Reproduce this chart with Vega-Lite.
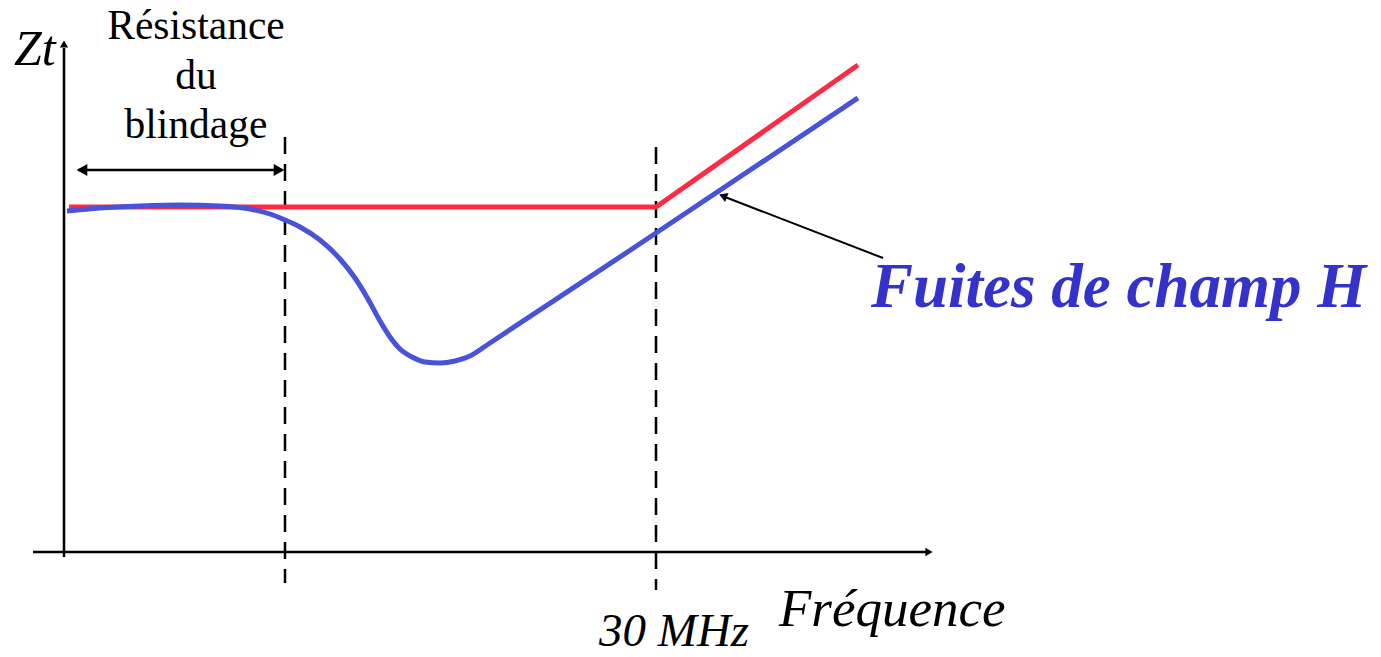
{
  "$schema": "https://vega.github.io/schema/vega-lite/v6.json",
  "width": 1381,
  "height": 657,
  "padding": 0,
  "autosize": {"type": "fit", "contains": "padding"},
  "background": "white",
  "config": {"view": {"stroke": null}, "text": {"font": "'Liberation Serif', 'Times New Roman', Times, serif"}},
  "datasets": {
    "blue": [
      {"f": 67, "z": 211}, {"f": 100, "z": 208}, {"f": 140, "z": 206}, {"f": 180, "z": 205},
      {"f": 220, "z": 206}, {"f": 250, "z": 209}, {"f": 270, "z": 214}, {"f": 285, "z": 220},
      {"f": 300, "z": 227}, {"f": 320, "z": 240}, {"f": 340, "z": 259}, {"f": 355, "z": 278},
      {"f": 368, "z": 299}, {"f": 380, "z": 321}, {"f": 390, "z": 337}, {"f": 400, "z": 349},
      {"f": 412, "z": 357}, {"f": 425, "z": 362}, {"f": 440, "z": 363}, {"f": 455, "z": 361},
      {"f": 470, "z": 356}, {"f": 490, "z": 343}, {"f": 656, "z": 233}, {"f": 858, "z": 98}
    ],
    "red": [{"f": 69, "z": 207}, {"f": 656, "z": 207}, {"f": 858, "z": 65}],
    "axes": [
      {"f": 33, "z": 552, "f2": 926, "z2": 552},
      {"f": 64, "z": 557, "f2": 64, "z2": 48}
    ],
    "heads": [
      {"f": 929, "z": 552, "dir": 90},
      {"f": 64, "z": 44, "dir": 0}
    ],
    "dashed": [
      {"f": 285, "z": 137, "z2": 583},
      {"f": 656, "z": 147, "z2": 590}
    ],
    "span": [{"f": 78, "z": 170, "f2": 282, "z2": 170}],
    "spanHeads": [{"f": 82, "z": 170, "dir": 270}, {"f": 279, "z": 170, "dir": 90}],
    "pointer": [{"f": 883, "z": 258, "f2": 725, "z2": 197}],
    "pointerHead": [{"f": 723, "z": 196, "dir": 291}],
    "resist": [
      {"f": 196, "z": 39, "label": "Résistance"},
      {"f": 196, "z": 89, "label": "du"},
      {"f": 196, "z": 138, "label": "blindage"}
    ],
    "zt": [{"f": 14, "z": 65, "label": "Zt"}],
    "freq": [{"f": 779, "z": 626, "label": "Fréquence"}],
    "mhz": [{"f": 599, "z": 646, "label": "30 MHz"}],
    "fuites": [{"f": 871, "z": 307, "label": "Fuites de champ H"}]
  },
  "encoding": {
    "x": {"field": "f", "type": "quantitative", "scale": {"domain": [0, 1381], "nice": false, "zero": false}, "axis": null},
    "y": {"field": "z", "type": "quantitative", "scale": {"domain": [0, 657], "nice": false, "zero": false, "reverse": true}, "axis": null}
  },
  "layer": [
    {
      "data": {"name": "axes"},
      "mark": {"type": "rule", "stroke": "black", "strokeWidth": 2.5},
      "encoding": {"x2": {"field": "f2"}, "y2": {"field": "z2"}}
    },
    {
      "data": {"name": "heads"},
      "mark": {"type": "point", "shape": "triangle-up", "filled": true, "color": "black", "opacity": 1, "size": 70},
      "encoding": {"angle": {"field": "dir", "type": "quantitative", "scale": null}}
    },
    {
      "data": {"name": "dashed"},
      "mark": {"type": "rule", "stroke": "black", "strokeWidth": 2.5, "strokeDash": [17, 10]},
      "encoding": {"y2": {"field": "z2"}}
    },
    {
      "data": {"name": "span"},
      "mark": {"type": "rule", "stroke": "black", "strokeWidth": 2.5},
      "encoding": {"x2": {"field": "f2"}, "y2": {"field": "z2"}}
    },
    {
      "data": {"name": "spanHeads"},
      "mark": {"type": "point", "shape": "triangle-up", "filled": true, "color": "black", "opacity": 1, "size": 150},
      "encoding": {"angle": {"field": "dir", "type": "quantitative", "scale": null}}
    },
    {
      "data": {"name": "red"},
      "mark": {"type": "line", "stroke": "#FF2A44", "strokeWidth": 5},
      "encoding": {}
    },
    {
      "data": {"name": "blue"},
      "mark": {"type": "line", "stroke": "#4753D9", "strokeWidth": 5, "interpolate": "monotone"},
      "encoding": {}
    },
    {
      "data": {"name": "pointer"},
      "mark": {"type": "rule", "stroke": "black", "strokeWidth": 2},
      "encoding": {"x2": {"field": "f2"}, "y2": {"field": "z2"}}
    },
    {
      "data": {"name": "pointerHead"},
      "mark": {"type": "point", "shape": "triangle-up", "filled": true, "color": "black", "opacity": 1, "size": 90},
      "encoding": {"angle": {"field": "dir", "type": "quantitative", "scale": null}}
    },
    {
      "data": {"name": "resist"},
      "mark": {"type": "text", "fontSize": 41.5, "align": "center", "baseline": "alphabetic", "color": "black"},
      "encoding": {"text": {"field": "label"}}
    },
    {
      "data": {"name": "zt"},
      "mark": {"type": "text", "fontSize": 50, "fontStyle": "italic", "align": "left", "baseline": "alphabetic", "color": "black"},
      "encoding": {"text": {"field": "label"}}
    },
    {
      "data": {"name": "freq"},
      "mark": {"type": "text", "fontSize": 53, "fontStyle": "italic", "align": "left", "baseline": "alphabetic", "color": "black"},
      "encoding": {"text": {"field": "label"}}
    },
    {
      "data": {"name": "mhz"},
      "mark": {"type": "text", "fontSize": 47, "fontStyle": "italic", "align": "left", "baseline": "alphabetic", "color": "black"},
      "encoding": {"text": {"field": "label"}}
    },
    {
      "data": {"name": "fuites"},
      "mark": {"type": "text", "fontSize": 63, "fontStyle": "italic", "fontWeight": "bold", "align": "left", "baseline": "alphabetic", "color": "#3333CC"},
      "encoding": {"text": {"field": "label"}}
    }
  ]
}
